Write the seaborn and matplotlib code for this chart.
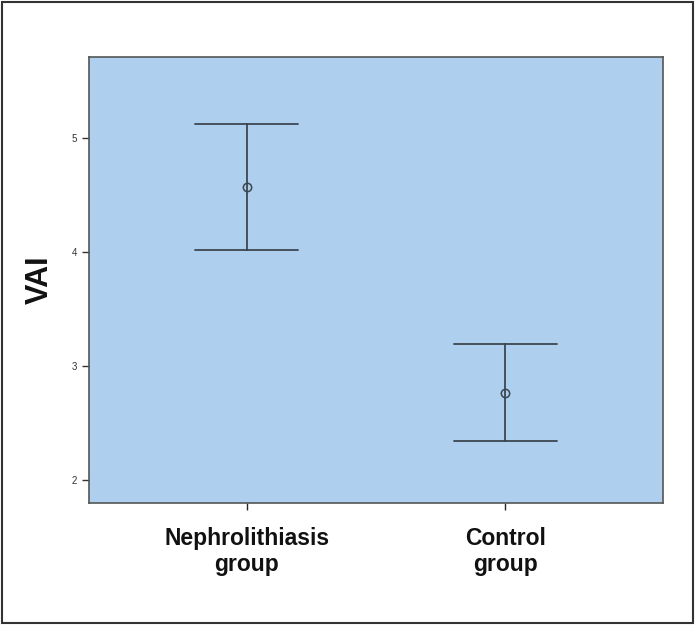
import numpy as np
import pandas as pd
import matplotlib
matplotlib.use("Agg")
import matplotlib.pyplot as plt
import matplotlib.patches as patches
import seaborn as sns

# group summary values (mean with interval)
groups = ["Nephrolithiasis\ngroup", "Control\ngroup"]
means = [4.57, 2.76]
lower = [4.02, 2.34]
upper = [5.12, 3.19]

rows = []
for g, lo, m, hi in zip(groups, lower, means, upper):
    for v in (lo, m, hi):
        rows.append({"group": g, "VAI": v})
df = pd.DataFrame(rows)

sns.set_style("ticks")
plt.rcParams["font.family"] = ["Liberation Sans", "DejaVu Sans"]

fig = plt.figure(figsize=(6.95, 6.25), dpi=100)
ax = fig.add_axes([0.128, 0.1952, 0.826, 0.7136])
ax.set_facecolor("#AECFEE")

line_col = "#3c4650"
sns.pointplot(data=df, x="group", y="VAI", estimator="median",
              errorbar=("pi", 100), capsize=0.4, linestyle="none",
              color=line_col, marker="o", markersize=6,
              markerfacecolor="none", markeredgewidth=1.1,
              err_kws={"linewidth": 1.3}, ax=ax)

ax.set_xlim(-0.61, 1.61)
ax.set_ylim(1.80, 5.71)
ax.set_yticks([2, 3, 4, 5])
ax.tick_params(axis="y", labelsize=7, colors="#333333", length=5, width=1)
ax.tick_params(axis="x", labelsize=16.5, labelcolor="#111111", length=5,
               width=1, pad=12)
for lab in ax.get_xticklabels():
    lab.set_fontweight("bold")
ax.set_xlabel("")
ax.set_ylabel("VAI", fontsize=22, fontweight="bold", color="#111111",
              labelpad=12)
for s in ax.spines.values():
    s.set_color("#555555")
    s.set_linewidth(1.2)

# outer frame around the whole figure
fig.patches.append(patches.Rectangle((0.003, 0.003), 0.994, 0.994,
                                     transform=fig.transFigure, fill=False,
                                     edgecolor="#333333", linewidth=1.5))

fig.savefig("out.png", dpi=100, facecolor="white")
